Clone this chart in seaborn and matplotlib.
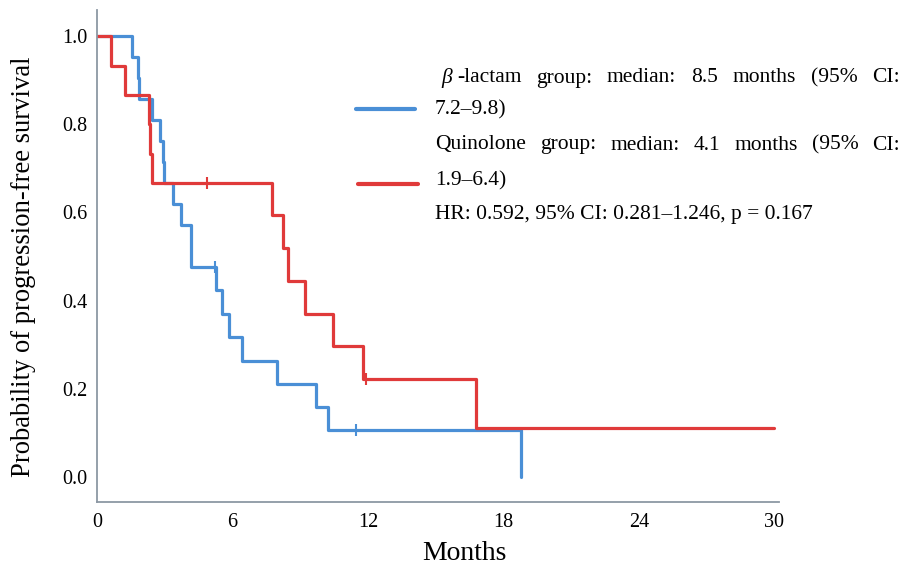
import numpy as np
import pandas as pd
import matplotlib
matplotlib.use("Agg")
import matplotlib.pyplot as plt
import seaborn as sns
from matplotlib.lines import Line2D

# ---- data (step curves) ----
blue_t = [0, 1.56, 1.80, 1.87, 2.42, 2.79, 2.93, 2.98, 3.35, 3.70, 4.15,
          5.27, 5.52, 5.85, 6.40, 7.98, 9.68, 10.21, 18.76]
blue_s = [1.0, 0.952, 0.905, 0.857, 0.810, 0.762, 0.714, 0.667, 0.619, 0.571, 0.476,
          0.423, 0.370, 0.317, 0.264, 0.211, 0.158, 0.106, 0.0]
blue_cens_t = [5.22, 11.46]
blue_cens_s = [0.476, 0.106]

red_t = [0, 0.62, 1.24, 2.29, 2.36, 2.45, 7.77, 8.24, 8.46, 9.20, 10.43, 11.76, 16.77, 30.0]
red_s = [1.0, 0.933, 0.867, 0.800, 0.733, 0.667, 0.593, 0.519, 0.444, 0.370, 0.296,
         0.222, 0.111, 0.111]
red_cens_t = [4.85, 11.93]
red_cens_s = [0.667, 0.222]

groups = ["beta-lactam", "Quinolone"]
colors = {"beta-lactam": "#4a8fd6", "Quinolone": "#e03a3a"}
x_ticks = [0, 6, 12, 18, 24, 30]
y_ticks = [0.0, 0.2, 0.4, 0.6, 0.8, 1.0]
y_ticklabels = ["0.0", "0.2", "0.4", "0.6", "0.8", "1.0"]

line1_words = ["group:", "median:", "8.5", "months", "(95%", "CI:"]
line2 = "7.2\u20139.8)"
line3_words = ["Quinolone", "group:", "median:", "4.1", "months", "(95%", "CI:"]
line4 = "1.9\u20136.4)"
line5 = "HR: 0.592, 95% CI: 0.281\u20131.246, p = 0.167"

# ---- figure ----
sns.set_theme(style="white")
plt.rcParams["font.family"] = ["Liberation Serif", "DejaVu Serif"]
W, H = 905, 572
fig = plt.figure(figsize=(W / 100, H / 100), dpi=100)
fig.patch.set_facecolor("white")

def fx(x):
    return x / W

def fy(y):
    return 1 - y / H

ax = fig.add_axes([fx(97), fy(502), (779 - 97) / W, (502 - 10) / H])

df = pd.concat([
    pd.DataFrame({"t": blue_t, "s": blue_s, "group": groups[0]}),
    pd.DataFrame({"t": red_t, "s": red_s, "group": groups[1]}),
], ignore_index=True)
cens = pd.concat([
    pd.DataFrame({"t": blue_cens_t, "s": blue_cens_s, "group": groups[0]}),
    pd.DataFrame({"t": red_cens_t, "s": red_cens_s, "group": groups[1]}),
], ignore_index=True)

sns.lineplot(data=df, x="t", y="s", hue="group", palette=colors, estimator=None,
             sort=False, drawstyle="steps-post", linewidth=2.3, legend=False, ax=ax)
sns.scatterplot(data=cens, x="t", y="s", hue="group", palette=colors, marker="|",
                s=70, linewidth=1.5, legend=False, ax=ax, zorder=3)

ax.set_xlim(0, 30.2)
ax.set_ylim(-0.0567, 1.059)
ax.set_xticks(x_ticks)
ax.set_xticklabels([str(v) for v in x_ticks])
ax.set_yticks(y_ticks)
ax.set_yticklabels(y_ticklabels)
ax.tick_params(axis="both", length=0, labelsize=14.5, colors="#000000")
ax.tick_params(axis="x", pad=8)
ax.tick_params(axis="y", pad=7)
ax.set_xlabel("")
ax.set_ylabel("")
for side in ["top", "right"]:
    ax.spines[side].set_visible(False)
for side in ["left", "bottom"]:
    ax.spines[side].set_color("#8c98a4")
    ax.spines[side].set_linewidth(1.3)

fig.text(fx(24), fy(267), "Probability of progression-free survival", rotation=90,
         ha="center", va="center", fontsize=19.2, color="#000000")
fig.text(fx(464), fy(553), "Months", ha="center", va="center", fontsize=20,
         color="#000000")

# ---- legend (manual) ----
fig.add_artist(Line2D([fx(356), fx(415)], [fy(109), fy(109)], color=colors[groups[0]],
                      linewidth=3.0, transform=fig.transFigure))
fig.add_artist(Line2D([fx(358), fx(418)], [fy(184), fy(184)], color=colors[groups[1]],
                      linewidth=3.0, transform=fig.transFigure))

fs = 15.5
tc = "#000000"
fig.canvas.draw()
r = fig.canvas.get_renderer()

def justify(first_parts, words, x0, x1, y):
    items = []
    for txt, style, g in first_parts:
        t = fig.text(0, fy(y), txt, fontsize=fs, style=style, va="center", color=tc)
        items.append((t, g))
    rest = [fig.text(0, fy(y), w, fontsize=fs, va="center", color=tc) for w in words]
    fw = [t.get_window_extent(r).width for t, _ in items]
    first_w = sum(fw) + sum(g for _, g in items[:-1])
    rw = [t.get_window_extent(r).width for t in rest]
    gap = (x1 - x0 - first_w - sum(rw)) / len(rest)
    x = x0
    for (t, g), w in zip(items, fw):
        t.set_x(fx(x))
        x += w + g
    x = x0 + first_w + gap
    for t, w in zip(rest, rw):
        t.set_x(fx(x))
        x += w + gap

justify([("\u03b2", "italic", 5), ("-lactam", "normal", 0)], line1_words, 441, 900, 78)
fig.text(fx(435), fy(110), line2, fontsize=fs, va="center", color=tc)
justify([(line3_words[0], "normal", 0)], line3_words[1:], 435, 900, 145)
fig.text(fx(435), fy(181), line4, fontsize=fs, va="center", color=tc)
fig.text(fx(435), fy(214), line5, fontsize=fs, va="center", color=tc)

fig.savefig("out.png", dpi=100, facecolor="white")
